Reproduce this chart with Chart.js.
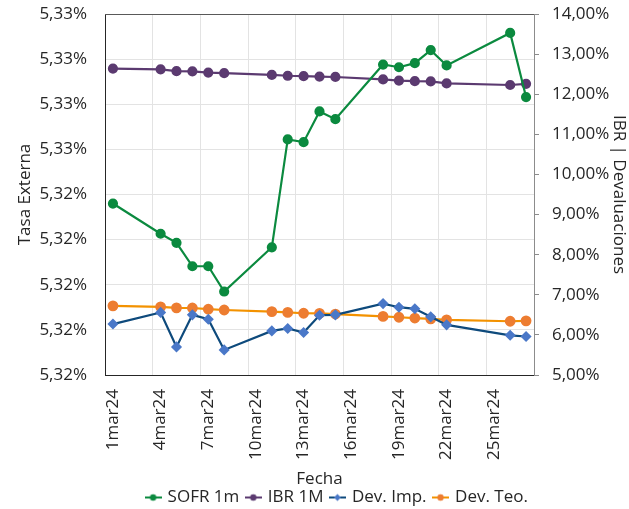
<!DOCTYPE html>
<html>
<head>
<meta charset="utf-8">
<script src="https://cdn.jsdelivr.net/npm/chart.js@4.4.1/dist/chart.umd.min.js"></script>
<style>
    html, body { margin: 0; padding: 0; background: #ffffff; }
    #wrap { width: 629px; height: 509px; position: relative; }
</style>
</head>
<body>
<div id="wrap"><canvas id="chart"></canvas></div>
<script>
// Eje de fechas (marzo 2024), un slot por día
const DATE_LABELS = [
    '1mar24', '2mar24', '3mar24', '4mar24', '5mar24', '6mar24', '7mar24', '8mar24', '9mar24',
    '10mar24', '11mar24', '12mar24', '13mar24', '14mar24', '15mar24', '16mar24', '17mar24', '18mar24',
    '19mar24', '20mar24', '21mar24', '22mar24', '23mar24', '24mar24', '25mar24', '26mar24', '27mar24'
];

// Fechas con dato
const DATES = [
    '1mar24', '4mar24', '5mar24', '6mar24', '7mar24', '8mar24', '11mar24', '12mar24', '13mar24',
    '14mar24', '15mar24', '18mar24', '19mar24', '20mar24', '21mar24', '22mar24', '26mar24', '27mar24'
];

// Series (eje izquierdo: SOFR; eje derecho: IBR y devaluaciones)
const SOFR_1M = [5.3248, 5.32413, 5.32393, 5.32341, 5.32341, 5.32285, 5.32383, 5.32622, 5.32616,
                 5.32684, 5.32667, 5.32788, 5.32782, 5.32791, 5.3282, 5.32786, 5.32858, 5.32716];
const IBR_1M = [12.64, 12.62, 12.575, 12.57, 12.54, 12.525, 12.48, 12.46, 12.45,
                12.44, 12.43, 12.37, 12.34, 12.325, 12.32, 12.27, 12.23, 12.26];
const DEV_IMP = [6.27, 6.56, 5.70, 6.50, 6.39, 5.625, 6.10, 6.16, 6.06,
                 6.49, 6.50, 6.78, 6.69, 6.65, 6.45, 6.25, 5.99, 5.96];
const DEV_TEO = [6.725, 6.70, 6.675, 6.67, 6.64, 6.62, 6.58, 6.56, 6.54,
                 6.535, 6.52, 6.46, 6.44, 6.42, 6.40, 6.375, 6.34, 6.35];

// Etiquetas de los ejes
const LEFT_TICKS = ['5,32%', '5,32%', '5,32%', '5,32%', '5,32%', '5,33%', '5,33%', '5,33%', '5,33%'];
const RIGHT_TICKS = ['5,00%', '6,00%', '7,00%', '8,00%', '9,00%', '10,00%', '11,00%', '12,00%', '13,00%', '14,00%'];

const COLORS = {
    sofr: '#0b8a3f',
    ibr: '#5b3a70',
    impLine: '#0e4a7c',
    impPoint: '#4a78c8',
    teoLine: '#f39200',
    teoPoint: '#ed7d31',
    grid: '#e3e3e3',
    text: '#262626'
};

const FONT = "'Open Sans', 'Noto Sans', sans-serif";
const FONT_SIZE = 17;

function toPoints(values) {
    return DATES.map((d, i) => ({ x: d, y: values[i] }));
}

// Icono de leyenda: línea con marcador
function legendIcon(lineColor, pointColor, diamond) {
    const c = document.createElement('canvas');
    c.width = 17;
    c.height = 10;
    const g = c.getContext('2d');
    g.strokeStyle = lineColor;
    g.lineWidth = 2;
    g.beginPath();
    g.moveTo(0, 5);
    g.lineTo(17, 5);
    g.stroke();
    g.fillStyle = pointColor;
    g.beginPath();
    if (diamond) {
        g.moveTo(8.5, 1.5); g.lineTo(12, 5); g.lineTo(8.5, 8.5); g.lineTo(5, 5);
    } else {
        g.arc(8.5, 5, 3.2, 0, Math.PI * 2);
    }
    g.closePath();
    g.fill();
    return c;
}

// y axes: no extra top/bottom padding from tick labels
function fixedWidth(width) {
    return function(scale) {
        scale.width = width;
        scale.paddingTop = 0;
        scale.paddingBottom = 0;
    };
}

// Borde superior del área de trazado y ajuste de la leyenda
const frame = {
    id: 'frame',
    afterLayout(chart) {
        chart.legend.left += 23;
        chart.legend.right += 23;
        chart.legend.top += 7;
        chart.legend.bottom += 7;
    },
    afterDatasetsDraw(chart) {
        const { ctx, chartArea } = chart;
        ctx.save();
        ctx.strokeStyle = '#595959';
        ctx.lineWidth = 1;
        ctx.beginPath();
        ctx.moveTo(chartArea.left, chartArea.top + 0.5);
        ctx.lineTo(chartArea.right, chartArea.top + 0.5);
        ctx.stroke();
        ctx.restore();
    }
};

Chart.defaults.font.family = FONT;
Chart.defaults.font.size = FONT_SIZE;
Chart.defaults.color = COLORS.text;

new Chart(document.getElementById('chart'), {
    type: 'line',
    data: {
        labels: DATE_LABELS,
        datasets: [{
            label: 'SOFR 1m',
            data: toPoints(SOFR_1M),
            yAxisID: 'y',
            borderColor: COLORS.sofr,
            backgroundColor: COLORS.sofr,
            borderWidth: 2.2,
            pointRadius: 4,
            tension: 0
        }, {
            label: 'IBR 1M',
            data: toPoints(IBR_1M),
            yAxisID: 'y1',
            borderColor: COLORS.ibr,
            backgroundColor: COLORS.ibr,
            borderWidth: 2.2,
            pointRadius: 4,
            tension: 0
        }, {
            label: 'Dev. Imp.',
            data: toPoints(DEV_IMP),
            yAxisID: 'y1',
            borderColor: COLORS.impLine,
            backgroundColor: COLORS.impPoint,
            pointBorderColor: COLORS.impPoint,
            pointStyle: 'rectRot',
            borderWidth: 2.2,
            pointRadius: 4,
            tension: 0
        }, {
            label: 'Dev. Teo.',
            data: toPoints(DEV_TEO),
            yAxisID: 'y1',
            borderColor: COLORS.teoLine,
            backgroundColor: COLORS.teoPoint,
            pointBorderColor: COLORS.teoPoint,
            borderWidth: 2.2,
            pointRadius: 4.3,
            tension: 0
        }]
    },
    options: {
        responsive: true,
        maintainAspectRatio: false,
        animation: false,
        layout: {
            padding: { top: 14, left: 0, right: 0, bottom: 0 }
        },
        plugins: {
            tooltip: { enabled: false },
            legend: {
                position: 'bottom',
                labels: {
                    usePointStyle: true,
                    pointStyleWidth: 12,
                    boxHeight: 10,
                    padding: 8,
                    color: COLORS.text,
                    generateLabels: function(chart) {
                        const icons = [
                            legendIcon(COLORS.sofr, COLORS.sofr, false),
                            legendIcon(COLORS.ibr, COLORS.ibr, false),
                            legendIcon(COLORS.impLine, COLORS.impPoint, true),
                            legendIcon(COLORS.teoLine, COLORS.teoPoint, false)
                        ];
                        return chart.data.datasets.map((ds, i) => ({
                            text: ds.label,
                            pointStyle: icons[i],
                            fontColor: COLORS.text,
                            lineWidth: 0,
                            strokeStyle: 'transparent',
                            fillStyle: 'transparent',
                            datasetIndex: i
                        }));
                    }
                }
            }
        },
        scales: {
            x: {
                type: 'category',
                offset: true,
                grid: {
                    offset: true,
                    drawTicks: false,
                    color: (ctx) => (ctx.index % 3 === 0 ? COLORS.grid : 'rgba(0,0,0,0)')
                },
                border: { color: '#262626', width: 1 },
                ticks: {
                    autoSkip: false,
                    maxRotation: 90,
                    minRotation: 90,
                    padding: 14,
                    callback: function(value, index) {
                        return index % 3 === 0 ? DATE_LABELS[index] : '';
                    }
                },
                title: {
                    display: true,
                    text: 'Fecha',
                    padding: { top: 0, bottom: -15 }
                },
                afterFit: function(scale) { scale.height = 99; }
            },
            y: {
                position: 'left',
                min: 5.321,
                max: 5.329,
                grid: { color: COLORS.grid, drawTicks: false },
                border: { color: '#262626', width: 1 },
                ticks: {
                    stepSize: 0.001,
                    padding: 18,
                    callback: function(value, index) { return LEFT_TICKS[index]; }
                },
                title: {
                    display: true,
                    text: 'Tasa Externa',
                    padding: { top: 15, bottom: 0 }
                },
                afterFit: fixedWidth(105)
            },
            y1: {
                position: 'right',
                min: 5,
                max: 14,
                grid: { drawOnChartArea: false, color: '#8c8c8c', tickLength: 5 },
                border: { color: '#8c8c8c', width: 1 },
                ticks: {
                    stepSize: 1,
                    padding: 13,
                    callback: function(value, index) { return RIGHT_TICKS[index]; }
                },
                title: {
                    display: true,
                    text: 'IBR | Devaluaciones',
                    padding: { top: 0, bottom: 0 }
                },
                afterFit: fixedWidth(95)
            }
        }
    },
    plugins: [frame]
});
</script>
</body>
</html>
